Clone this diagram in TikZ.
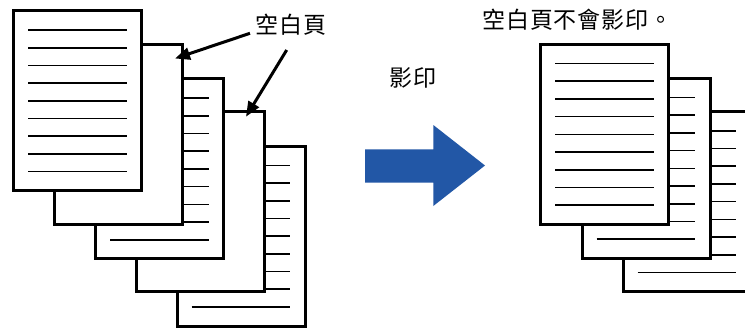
\documentclass[tikz,border=0pt]{standalone}
\usepackage{fontspec}
\newfontfamily\cjk[LetterSpace=4]{Noto Sans CJK TC}
\usetikzlibrary{arrows.meta,calc}
\definecolor{arrowblue}{RGB}{34,87,166}
\tikzset{
  pagebox/.style={draw=black, fill=white, line width=3pt, rectangle, inner sep=0pt, outer sep=0pt,
    minimum width=128pt, minimum height=180pt, anchor=north west},
  textline/.style={draw=black, line width=1.6pt},
  lbl/.style={inner sep=0pt, font=\cjk\fontsize{23}{25}\selectfont},
  pointer/.style={draw=black, line width=3pt, -{Triangle[length=15pt,width=12pt]}}
}
\newcommand{\pagelines}[1]{%
  \foreach \i in {0,...,8} {
    \draw[textline] ($(#1.north west)+(14.5,19.3+17.7*\i)$) -- ++(98.7,0);
  }%
}
\begin{document}
\begin{tikzpicture}[x=1pt,y=-1pt]
\clip (0,0) rectangle (745,327);
\fill[white] (0,0) rectangle (745,327);
% left stack, back to front
\node[pagebox] (L5) at (177,146) {};
\pagelines{L5}
\node[pagebox] (L4) at (136.5,111.5) {};
\node[pagebox] (L3) at (95.8,78.8) {};
\pagelines{L3}
\node[pagebox] (L2) at (54.7,44.7) {};
\node[pagebox] (L1) at (13.5,10.7) {};
\pagelines{L1}
% labels and pointers
\node[lbl, anchor=west] (blank) at (255,24.5) {空白頁};
\coordinate (p1s) at (250,33.3);
\coordinate (p1e) at (175,58.5);
\coordinate (p2s) at (286.7,50);
\coordinate (p2e) at (246,116.7);
\draw[pointer] (p1s) -- (p1e);
\draw[pointer] (p2s) -- (p2e);
% copy arrow
\node[lbl] (copy) at (413,77.5) {影印};
\fill[arrowblue] (365,149.3) -- (433.3,149.3) -- (433.3,125) -- (485,165.5) -- (433.3,206) -- (433.3,182.7) -- (365,182.7) -- cycle;
% right stack
\node[pagebox] (R3) at (623.2,111.5) {};
\pagelines{R3}
\node[pagebox] (R2) at (582.2,78.2) {};
\pagelines{R2}
\node[pagebox] (R1) at (540.8,44.2) {};
\pagelines{R1}
\node[lbl, anchor=west] (note) at (482,19.5) {空白頁不會影印。};
\end{tikzpicture}
\end{document}
